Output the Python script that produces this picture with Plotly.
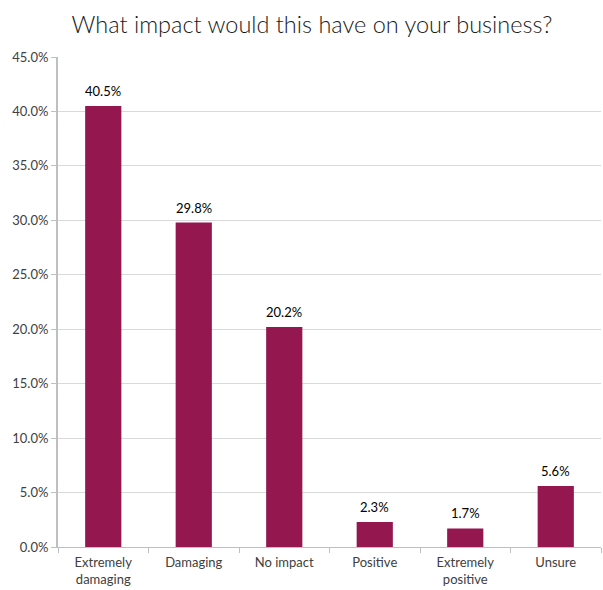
import plotly.graph_objects as go

categories = ["Extremely<br>damaging", "Damaging", "No impact", "Positive", "Extremely<br>positive", "Unsure"]
shares = [40.5, 29.8, 20.2, 2.3, 1.7, 5.6]
y_ticks = [0, 5, 10, 15, 20, 25, 30, 35, 40, 45]
y_tick_labels = [f"{v:.1f}%" for v in y_ticks]

FONT = "Lato, 'Open Sans', sans-serif"

fig = go.Figure(
    go.Bar(
        x=categories,
        y=shares,
        marker=dict(color="#951750", line=dict(width=0)),
        width=0.4,
        hovertemplate="%{y:.1f}%<extra></extra>",
    )
)

# value labels above each bar
for cat, val in zip(categories, shares):
    fig.add_annotation(
        x=cat,
        y=val,
        text=f"{val:.1f}%",
        showarrow=False,
        yanchor="bottom",
        yshift=5,
        font=dict(family=FONT, size=13, color="#000000"),
    )

fig.update_layout(
    width=603,
    height=590,
    margin=dict(l=58, r=2, t=57, b=43),
    paper_bgcolor="white",
    plot_bgcolor="white",
    showlegend=False,
    title=dict(
        text="What impact would this have on your business?",
        x=312 / 603,
        xanchor="center",
        y=1 - 25 / 590,
        yanchor="middle",
        font=dict(family=FONT, size=23.5, color="#1a1a1a", weight=300),
    ),
    font=dict(family=FONT, size=13, color="#595959"),
)

fig.update_xaxes(
    type="category",
    automargin=False,
    showgrid=False,
    showline=True,
    linecolor="#bfbfbf",
    linewidth=1,
    ticks="outside",
    tickson="boundaries",
    ticklen=5,
    tickcolor="#bfbfbf",
    ticklabelstandoff=3,
    tickfont=dict(family=FONT, size=13, color="#404040"),
)

fig.update_yaxes(
    range=[0, 45],
    automargin=False,
    tickvals=y_ticks,
    ticktext=y_tick_labels,
    showgrid=True,
    gridcolor="#d9d9d9",
    gridwidth=1,
    showline=True,
    linecolor="#bfbfbf",
    linewidth=2,
    ticks="outside",
    ticklen=5,
    tickcolor="#bfbfbf",
    tickfont=dict(family=FONT, size=13, color="#404040"),
    zeroline=False,
)

fig.write_html("out.html")
